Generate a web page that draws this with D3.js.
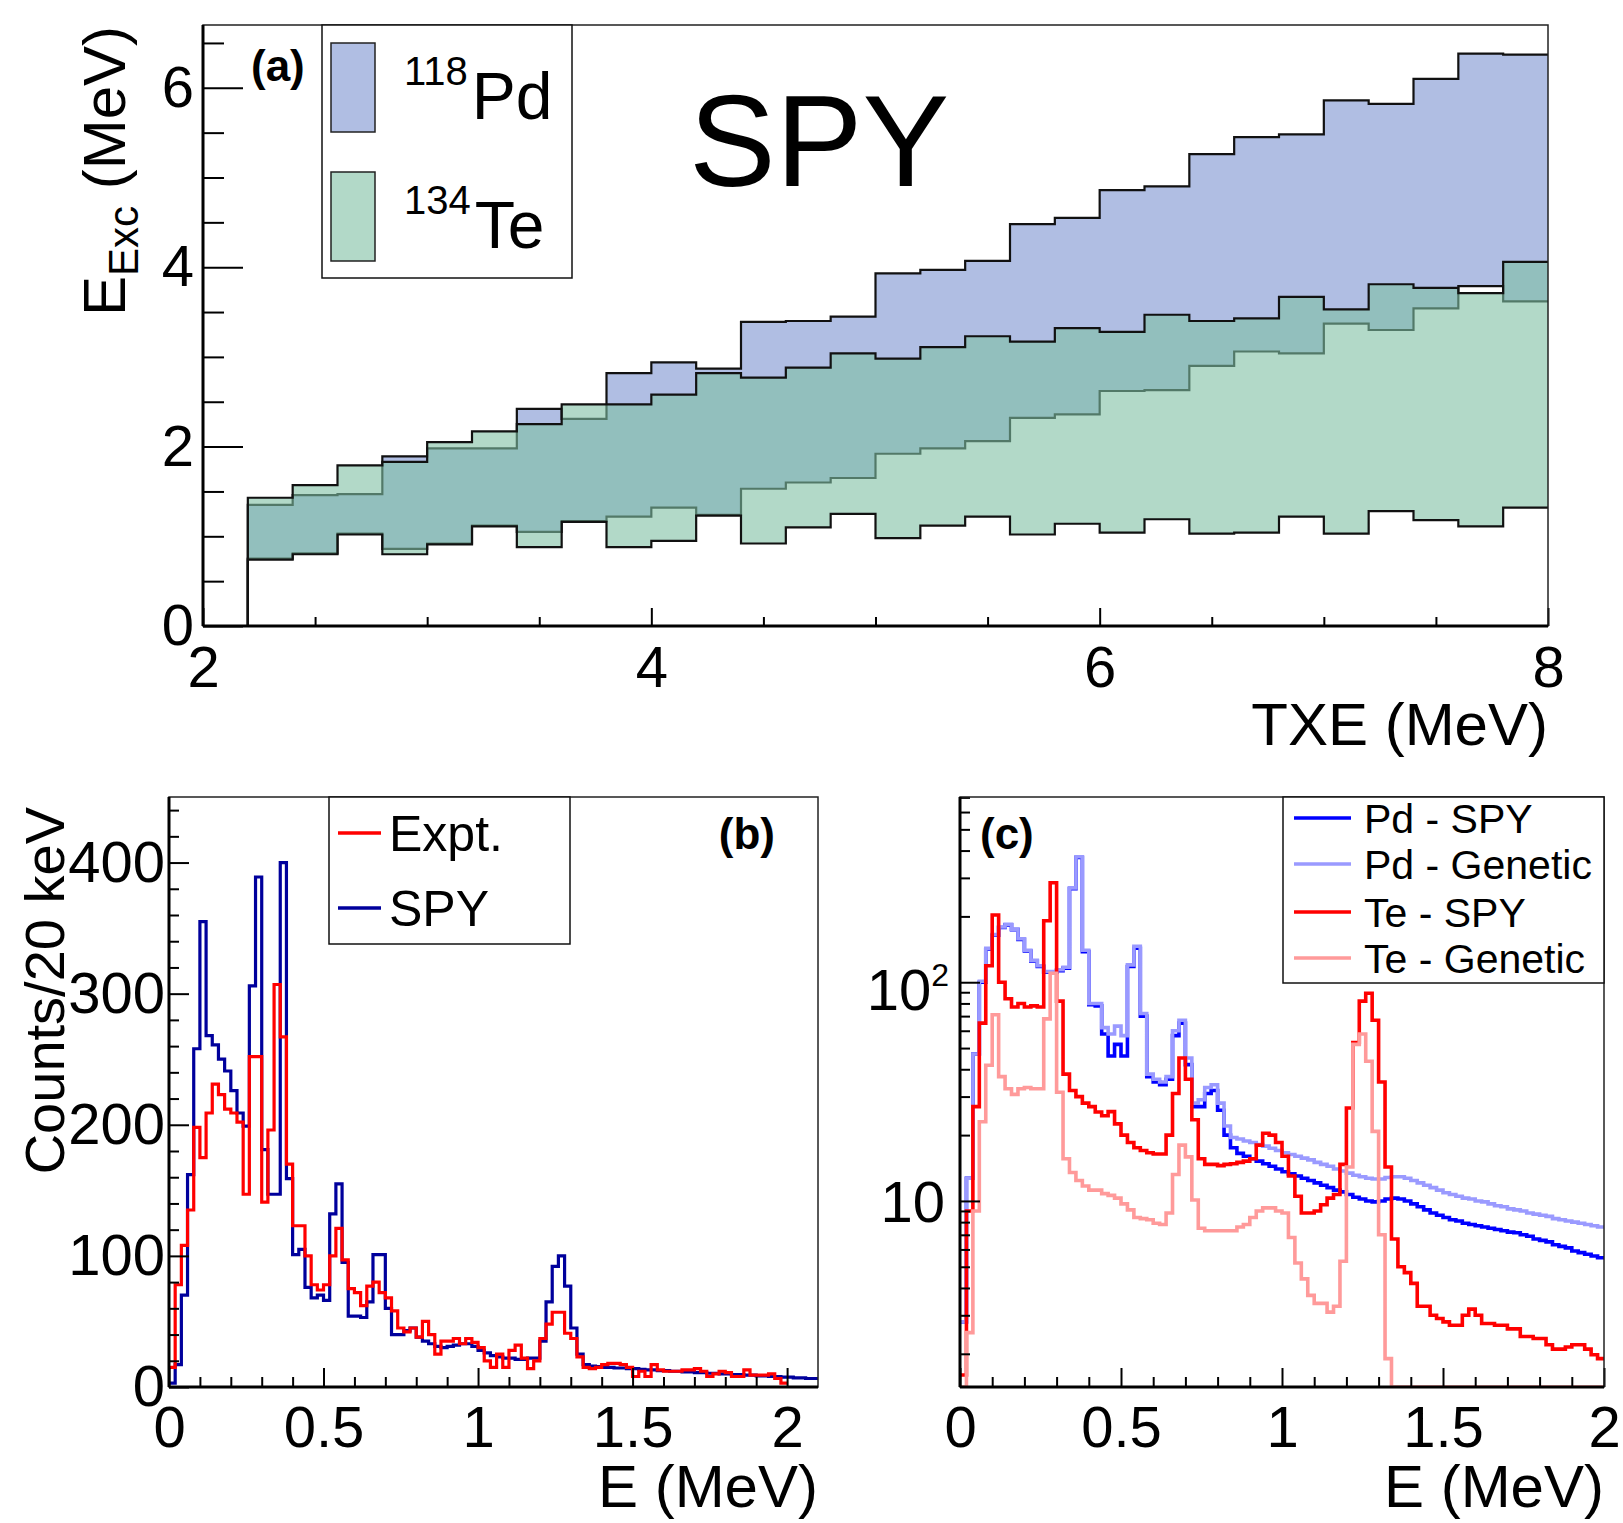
<!DOCTYPE html>
<html>
<head>
<meta charset="utf-8">
<script src="https://d3js.org/d3.v7.min.js"></script>
<style>
html,body{margin:0;padding:0;background:#fff;}
svg text{font-family:"Liberation Sans",Arial,Helvetica,sans-serif;}
</style>
</head>
<body>
<svg id="fig" width="1623" height="1523" xmlns="http://www.w3.org/2000/svg"></svg>
<script>
// ---------------- DATA ----------------
// Panel (a): excitation-energy bands vs TXE, bins of 0.2 MeV starting at 2.2 MeV
const txeStart = 2.2;
const txeBinWidth = 0.2;
const pdUpper = [1.35,1.46,1.47,1.89,1.98,1.98,2.42,2.31,2.82,2.94,2.87,3.39,3.40,3.45,3.93,3.97,4.07,4.48,4.55,4.86,4.90,5.26,5.45,5.48,5.86,5.82,6.10,6.38,6.37];
const pdLower = [0.75,0.81,1.03,0.86,0.92,1.12,1.05,1.17,1.22,1.32,1.24,1.53,1.60,1.65,1.92,1.98,2.06,2.32,2.36,2.62,2.63,2.90,3.06,3.04,3.37,3.30,3.54,3.79,3.62];
const teUpper = [1.43,1.57,1.79,1.83,2.05,2.17,2.25,2.47,2.47,2.58,2.82,2.77,2.88,3.04,2.98,3.11,3.23,3.17,3.32,3.28,3.47,3.40,3.43,3.67,3.53,3.81,3.77,3.71,4.06];
const teLower = [0.74,0.80,1.02,0.80,0.91,1.11,0.88,1.16,0.88,0.95,1.23,0.92,1.10,1.25,0.98,1.12,1.22,1.02,1.14,1.04,1.19,1.03,1.04,1.22,1.03,1.28,1.18,1.11,1.32];

// Panel (b): counts per 20 keV
const bBinWidth = 0.02;
const exptCounts = [15,78,108,135,198,175,209,231,223,212,
  209,202,147,252,252,141,196,307,267,170,
  123,123,100,78,74,78,100,121,97,75,
  72,62,77,80,72,68,58,45,42,45,
  38,50,40,25,35,35,37,33,37,34,
  30,20,15,25,15,28,32,22,14,20,
  37,48,57,57,41,37,23,15,14,15,
  17,18,18,17,15,8,12,8,17,13,
  12,12,12,13,13,14,12,8,10,12,
  11,8,8,13,9,9,9,10,6.5,3];
const spyCounts = [3,17,70,162,258,355,268,261,250,241,
  226,209,199,306,389,181,147,147,400,159,
  101,105,76,68,70,66,132,155,95,54,
  54,53,65,101,101,60,40,40,43,45,
  38,35,33,31,30,31,32,33,33,31,
  28,26,24,23,22,22,21,21,22,22,
  35,65,92,100,77,45,25,17,16,15.5,
  15,15,14.5,14.5,14,14,13.5,13,13,12.5,
  12.5,12,12,11.5,11.5,11,11,10.5,10.5,10,
  10,9.5,9.5,9,9,8.5,8.5,8,8,7.5,
  7.5,7,7,6.5,6.5];

// Panel (c): spectra (log scale), bins of 20 keV
const cBinWidth = 0.02;
const pdSpy = [2.8,12.7,47,100,142,164,178,183,174,157,
  139,125,118,111,111,113,116,268,372,138,
  79,78,58,46,52,46,118,143,70,37,
  35,34,36,57,65,42,27,27,31,32,
  26,20,17.5,16.5,16.0,15.6,15.2,14.8,14.4,14.0,
  13.6,13.3,13.0,12.7,12.4,12.1,11.8,11.5,11.2,11.0,
  10.7,10.4,10.2,10.0,9.9,10.0,10.2,10.3,10.2,10.0,
  9.7,9.4,9.1,8.8,8.6,8.4,8.2,8.1,7.9,7.8,
  7.7,7.6,7.5,7.4,7.3,7.2,7.15,7.0,6.9,6.7,
  6.6,6.5,6.3,6.2,6.1,5.9,5.8,5.7,5.6,5.5];
const pdGenetic = [2.8,12.7,47,101,143,165,179,184,175,158,
  140,126,119,112,112,114,117,270,375,140,
  80,80,62,58,63,57,120,146,72,38,
  36,35,37,60,67,45,28,29,33,34,
  28,22,19.5,19.2,18.8,18.5,18.1,17.8,17.4,17.0,
  16.6,16.3,16.0,15.7,15.4,15.0,14.7,14.4,14.0,13.7,
  13.4,13.1,12.9,12.7,12.6,12.6,12.8,12.9,12.9,12.7,
  12.4,12.1,11.8,11.5,11.2,10.9,10.7,10.5,10.3,10.2,
  10.0,9.9,9.7,9.5,9.4,9.2,9.1,9.0,8.8,8.7,
  8.6,8.5,8.3,8.2,8.1,8.0,7.9,7.8,7.7,7.6];
const teSpy = [1.6,9,27,65,119,203,100,84,77,80,
  77,78,77,191,285,82,38,32,30,28,
  27,25.5,24.5,25.6,22.5,20,18.5,17.5,17,16.6,
  16.4,16.4,20,31,45,36,23.5,15.6,14.7,14.7,
  14.5,14.7,14.8,15,15.2,15.6,18,20.4,20,18.5,
  16,13,10.5,8.8,8.8,9.0,9.6,10.3,10.7,14.7,
  26.6,53,82,89,67,35,14.3,6.7,5.0,4.7,
  4.2,3.3,3.3,3.0,2.9,2.8,2.7,2.7,3.0,3.2,
  3.0,2.75,2.75,2.7,2.7,2.6,2.6,2.4,2.4,2.35,
  2.35,2.2,2.1,2.1,2.15,2.2,2.2,2.1,1.98,1.9];
const teGenetic = [0,2.5,9,23,41.7,71,37,32.6,30.7,32.6,
  33,32.6,32.6,68,110,31.4,15.6,13.5,12.4,11.7,
  11.2,11.2,10.8,10.6,10.3,9.7,9.1,8.4,8.3,8.2,
  7.9,7.8,8.8,13.2,18,15.9,10.1,7.5,7.3,7.3,
  7.3,7.3,7.3,7.6,7.8,8.4,9.0,9.3,9.3,9.0,
  8.8,6.8,5.2,4.4,3.7,3.4,3.4,3.1,3.3,5.3,
  14.3,52,58,43.5,20.8,7.0,1.9,0,0,0,
  0,0,0,0,0,0,0,0,0,0,
  0,0,0,0,0,0,0,0,0,0,
  0,0,0,0,0,0,0,0,0,0];

// tick values / labels
const aXTicks = [2,4,6,8];
const aYTicks = [0,2,4,6];
const bXTicks = [0,0.5,1,1.5,2];
const bYTicks = [0,100,200,300,400];
const cXTicks = [0,0.5,1,1.5,2];
const cYTicks = [10,100];
const legendA = [{mass:"118", el:"Pd"},{mass:"134", el:"Te"}];
const legendB = ["Expt.","SPY"];
const legendC = ["Pd - SPY","Pd - Genetic","Te - SPY","Te - Genetic"];

// ---------------- DRAW ----------------
const FONT = '"Liberation Sans", Arial, Helvetica, sans-serif';
const svg = d3.select("#fig");
svg.append("rect").attr("width",1623).attr("height",1523).attr("fill","#fff");

function stepPts(values, x0, w){
  const pts = values.map((v,i)=>[x0 + i*w, v]);
  pts.push([x0 + values.length*w, values[values.length-1]]);
  return pts;
}
function styleAxis(g, size){
  g.attr("font-family", FONT).attr("font-size", size);
  g.select(".domain").remove();
  g.selectAll(".tick line").attr("stroke","#000").attr("stroke-width",2);
  g.selectAll(".tick text").attr("fill","#000");
  return g;
}
function addClip(id, box){
  svg.append("clipPath").attr("id",id).append("rect")
    .attr("x",box.l).attr("y",box.t).attr("width",box.r-box.l).attr("height",box.b-box.t);
}
function frame(box){
  svg.append("rect").attr("x",box.l).attr("y",box.t).attr("width",box.r-box.l).attr("height",box.b-box.t)
    .attr("fill","none").attr("stroke","#222").attr("stroke-width",1.5);
  svg.append("line").attr("x1",box.l).attr("x2",box.l).attr("y1",box.t).attr("y2",box.b).attr("stroke","#000").attr("stroke-width",3);
  svg.append("line").attr("x1",box.l).attr("x2",box.r).attr("y1",box.b).attr("y2",box.b).attr("stroke","#000").attr("stroke-width",3);
}

// ===== Panel (a) =====
const A = {l:203, r:1548, t:25, b:626};
const xA = d3.scaleLinear().domain([2,8]).range([A.l,A.r]);
const yA = d3.scaleLinear().domain([0,6.7]).range([A.b,A.t]);
addClip("clipA", A);
const gA = svg.append("g").attr("clip-path","url(#clipA)");

function bandData(U,L){
  const n = U.length;
  const arr = U.map((u,i)=>({x: txeStart + i*txeBinWidth, u, l: L[i]}));
  arr.push({x: txeStart + n*txeBinWidth, u: U[n-1], l: L[n-1]});
  return arr;
}
const areaA = d3.area().curve(d3.curveStepAfter).x(d=>xA(d.x)).y0(d=>yA(d.l)).y1(d=>yA(d.u));
const lineA = d3.line().curve(d3.curveStepAfter).x(d=>xA(d[0])).y(d=>yA(d[1]));
const outline = vals => [[txeStart,0], ...stepPts(vals, txeStart, txeBinWidth)];

const pdFill = "#b0bee3", teFill = "rgb(127,192,163)", teAlpha = 0.6;
gA.append("path").attr("d", areaA(bandData(pdUpper,pdLower))).attr("fill",pdFill);
[pdUpper,pdLower].forEach(v=>gA.append("path").attr("d",lineA(outline(v))).attr("fill","none").attr("stroke","#111").attr("stroke-width",2.2));
gA.append("path").attr("d", areaA(bandData(teUpper,teLower))).attr("fill",teFill).attr("fill-opacity",teAlpha);
[teUpper,teLower].forEach(v=>gA.append("path").attr("d",lineA(outline(v))).attr("fill","none").attr("stroke","#111").attr("stroke-width",2.2));

// axes (a)
styleAxis(svg.append("g").attr("transform",`translate(${A.l},0)`)
  .call(d3.axisLeft(yA).tickValues(aYTicks).tickSize(-40).tickPadding(9).tickFormat(d3.format("d"))), 58);
styleAxis(svg.append("g").attr("transform",`translate(${A.l},0)`)
  .call(d3.axisLeft(yA).tickValues(d3.range(1,14).filter(k=>k%4).map(k=>k/2)).tickSize(-21).tickFormat("")), 10);
const gAx = styleAxis(svg.append("g").attr("transform",`translate(0,${A.b})`)
  .call(d3.axisBottom(xA).tickValues(aXTicks).tickSize(-18).tickFormat(d3.format("d"))), 58);
gAx.selectAll(".tick text").attr("dy",null).attr("y",61);
styleAxis(svg.append("g").attr("transform",`translate(0,${A.b})`)
  .call(d3.axisBottom(xA).tickValues(d3.range(5,16).filter(k=>k%4).map(k=>k/2)).tickSize(-9).tickFormat("")), 10);
frame(A);

// titles (a)
const yTitA = svg.append("text").attr("transform",`translate(125,26) rotate(-90)`).attr("text-anchor","end")
  .attr("font-size",60).attr("fill","#000");
yTitA.append("tspan").text("E");
yTitA.append("tspan").attr("font-size",42).attr("dy",13).text("Exc");
yTitA.append("tspan").attr("dy",-13).text(" (MeV)");
svg.append("text").attr("x",A.r).attr("y",745).attr("text-anchor","end").attr("font-size",60).text("TXE (MeV)");
svg.append("text").attr("x",251).attr("y",81).attr("font-size",44).attr("font-weight","bold").text("(a)");
svg.append("text").attr("x",689).attr("y",186).attr("font-size",130).text("SPY");

// legend (a)
svg.append("rect").attr("x",322).attr("y",25).attr("width",250).attr("height",253).attr("fill","#fff").attr("stroke","#111").attr("stroke-width",1.5);
const swY = [43,172];
legendA.forEach((d,i)=>{
  svg.append("rect").attr("x",331).attr("y",swY[i]).attr("width",44).attr("height",89)
    .attr("fill", i===0?pdFill:teFill).attr("fill-opacity", i===0?1:teAlpha)
    .attr("stroke","#222").attr("stroke-width",1.5);
  const t = svg.append("text").attr("x",404).attr("y",swY[i]+76).attr("font-size",66);
  t.append("tspan").attr("font-size",40).attr("dy",-34).text(d.mass);
  t.append("tspan").attr("dy",34).attr("dx",4).text(d.el);
});

// ===== Panel (b) =====
const B = {l:169, r:818, t:797, b:1387};
const xB = d3.scaleLinear().domain([0,2.1]).range([B.l,B.r]);
const yB = d3.scaleLinear().domain([0,450]).range([B.b,B.t]);
addClip("clipB", B);
const gB = svg.append("g").attr("clip-path","url(#clipB)");
const lineB = d3.line().curve(d3.curveStepAfter).x(d=>xB(d[0])).y(d=>yB(d[1]));
gB.append("path").attr("d",lineB(stepPts(spyCounts,0,bBinWidth))).attr("fill","none").attr("stroke","#00009c").attr("stroke-width",3.2);
gB.append("path").attr("d",lineB(stepPts(exptCounts,0,bBinWidth))).attr("fill","none").attr("stroke","#ff0000").attr("stroke-width",3.2);

styleAxis(svg.append("g").attr("transform",`translate(${B.l},0)`)
  .call(d3.axisLeft(yB).tickValues(bYTicks).tickSize(-20).tickPadding(4).tickFormat(d3.format("d"))), 58);
styleAxis(svg.append("g").attr("transform",`translate(${B.l},0)`)
  .call(d3.axisLeft(yB).tickValues(d3.range(1,23).filter(k=>k%5).map(k=>k*20)).tickSize(-10).tickFormat("")), 10);
const gBx = styleAxis(svg.append("g").attr("transform",`translate(0,${B.b})`)
  .call(d3.axisBottom(xB).tickValues(bXTicks).tickSize(-19).tickFormat(d3.format("~g"))), 58);
gBx.selectAll(".tick text").attr("dy",null).attr("y",60);
styleAxis(svg.append("g").attr("transform",`translate(0,${B.b})`)
  .call(d3.axisBottom(xB).tickValues(d3.range(1,21).filter(k=>k%5).map(k=>k/10)).tickSize(-10).tickFormat("")), 10);
frame(B);

svg.append("text").attr("transform",`translate(64,807) rotate(-90)`).attr("text-anchor","end").attr("font-size",56).text("Counts/20 keV");
svg.append("text").attr("x",B.r).attr("y",1507).attr("text-anchor","end").attr("font-size",60).text("E (MeV)");
svg.append("text").attr("x",775).attr("y",849).attr("text-anchor","end").attr("font-size",44).attr("font-weight","bold").text("(b)");

svg.append("rect").attr("x",329).attr("y",797).attr("width",241).attr("height",147).attr("fill","#fff").attr("stroke","#111").attr("stroke-width",1.5);
const legBColors = ["#ff0000","#00009c"], legBY = [833,908];
legendB.forEach((s,i)=>{
  svg.append("line").attr("x1",338).attr("x2",381).attr("y1",legBY[i]).attr("y2",legBY[i]).attr("stroke",legBColors[i]).attr("stroke-width",3.5);
  svg.append("text").attr("x",389).attr("y",legBY[i]+18).attr("font-size",50).text(s);
});

// ===== Panel (c) =====
const C = {l:960, r:1604, t:797, b:1387};
const xC = d3.scaleLinear().domain([0,2]).range([C.l,C.r]);
const yC = d3.scaleLog().domain([1.41,703]).range([C.b,C.t]).clamp(true);
addClip("clipC", C);
const gC = svg.append("g").attr("clip-path","url(#clipC)");
const lineC = d3.line().curve(d3.curveStepAfter).x(d=>xC(d[0])).y(d=>yC(Math.max(d[1],1.41)));
const seriesC = [
  {v: pdSpy, c:"#0000ff"},
  {v: pdGenetic, c:"#9a9aff"},
  {v: teSpy, c:"#ff0000"},
  {v: teGenetic, c:"#ff9a9a"}
];
seriesC.forEach(s=>gC.append("path").attr("d",lineC(stepPts(s.v,0,cBinWidth))).attr("fill","none").attr("stroke",s.c).attr("stroke-width",3.6));

styleAxis(svg.append("g").attr("transform",`translate(${C.l},0)`)
  .call(d3.axisLeft(yC).tickValues(cYTicks).tickSize(-20).tickFormat("")), 10);
const minorLog = [];
[1,10,100].forEach(dec=>{ for(let m=2;m<=9;m++){ const v=m*dec; if(v>1.41 && v<703) minorLog.push(v);} });
styleAxis(svg.append("g").attr("transform",`translate(${C.l},0)`)
  .call(d3.axisLeft(yC).tickValues(minorLog).tickSize(-10).tickFormat("")), 10);
// log labels
svg.append("text").attr("x",945).attr("y",yC(10)+21).attr("text-anchor","end").attr("font-size",58).text("10");
const l100 = svg.append("text").attr("x",949).attr("y",yC(100)+28).attr("text-anchor","end").attr("font-size",58);
l100.append("tspan").text("10");
l100.append("tspan").attr("font-size",32).attr("dy",-24).text("2");

const gCx = styleAxis(svg.append("g").attr("transform",`translate(0,${C.b})`)
  .call(d3.axisBottom(xC).tickValues(cXTicks).tickSize(-19).tickFormat(d3.format("~g"))), 58);
gCx.selectAll(".tick text").attr("dy",null).attr("y",60);
styleAxis(svg.append("g").attr("transform",`translate(0,${C.b})`)
  .call(d3.axisBottom(xC).tickValues(d3.range(1,20).filter(k=>k%5).map(k=>k/10)).tickSize(-10).tickFormat("")), 10);
frame(C);

svg.append("text").attr("x",C.r).attr("y",1507).attr("text-anchor","end").attr("font-size",60).text("E (MeV)");
svg.append("text").attr("x",980).attr("y",849).attr("font-size",44).attr("font-weight","bold").text("(c)");

svg.append("rect").attr("x",1283).attr("y",797).attr("width",321).attr("height",186).attr("fill","#fff").attr("stroke","#111").attr("stroke-width",1.5);
const legCY = [818,864,912,958];
legendC.forEach((s,i)=>{
  svg.append("line").attr("x1",1294).attr("x2",1351).attr("y1",legCY[i]).attr("y2",legCY[i]).attr("stroke",seriesC[i].c).attr("stroke-width",3.6);
  svg.append("text").attr("x",1364).attr("y",legCY[i]+15).attr("font-size",41).text(s);
});
</script>
</body>
</html>
